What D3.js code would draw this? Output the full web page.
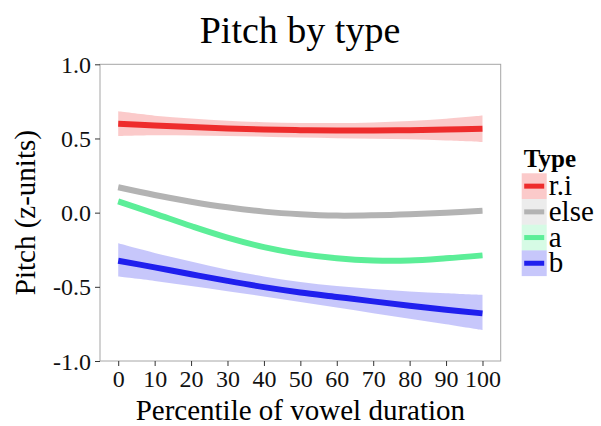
<!DOCTYPE html>
<html>
<head>
<meta charset="utf-8">
<script src="https://cdn.jsdelivr.net/npm/d3@7"></script>
<style>
  body { margin: 0; background: #fff; }
  text { font-family: "Liberation Serif", "DejaVu Serif", serif; }
</style>
</head>
<body>
<script>
var percentiles = [0, 10, 20, 30, 40, 50, 60, 70, 80, 90, 100];
var types = ["r.i", "else", "a", "b"];
var colors = ["#ee2c2c", "#b3b3b3", "#5cee98", "#1f1fee"];

var meanRi   = [0.600, 0.588, 0.577, 0.568, 0.561, 0.556, 0.553, 0.553, 0.556, 0.560, 0.566];
var lowRi    = [0.517, 0.522, 0.520, 0.516, 0.512, 0.506, 0.502, 0.498, 0.494, 0.487, 0.477];
var highRi   = [0.683, 0.654, 0.634, 0.620, 0.610, 0.605, 0.604, 0.608, 0.618, 0.633, 0.655];

var meanElse = [0.171, 0.119, 0.074, 0.036, 0.007, -0.011, -0.020, -0.018, -0.011, 0.000, 0.013];
var lowElse  = [0.159, 0.108, 0.064, 0.027, -0.002, -0.020, -0.030, -0.029, -0.023, -0.013, -0.001];
var highElse = [0.183, 0.130, 0.084, 0.045, 0.016, -0.002, -0.010, -0.007, 0.001, 0.013, 0.027];

var meanA    = [0.076, -0.006, -0.090, -0.168, -0.232, -0.278, -0.308, -0.323, -0.323, -0.308, -0.288];
var lowA     = [0.064, -0.016, -0.099, -0.177, -0.241, -0.287, -0.317, -0.333, -0.334, -0.321, -0.302];
var highA    = [0.088, 0.004, -0.081, -0.159, -0.223, -0.269, -0.299, -0.313, -0.312, -0.295, -0.274];

var meanB    = [-0.324, -0.369, -0.415, -0.460, -0.502, -0.538, -0.568, -0.598, -0.627, -0.654, -0.679];
var lowB     = [-0.431, -0.460, -0.495, -0.530, -0.565, -0.603, -0.640, -0.678, -0.715, -0.752, -0.791];
var highB    = [-0.207, -0.272, -0.330, -0.385, -0.430, -0.467, -0.495, -0.515, -0.531, -0.544, -0.555];

var yTicks = [-1.0, -0.5, 0.0, 0.5, 1.0];
var xTicks = [0, 10, 20, 30, 40, 50, 60, 70, 80, 90, 100];

var means = [meanRi, meanElse, meanA, meanB];
var lows = [lowRi, lowElse, lowA, lowB];
var highs = [highRi, highElse, highA, highB];

var series = types.map(function (t, k) {
    return {
        name: t,
        color: colors[k],
        points: percentiles.map(function (p, i) {
            return { x: p, y: means[k][i], lo: lows[k][i], hi: highs[k][i] };
        })
    };
});

var width = 601, height = 426;
var pLeft = 100, pRight = 500.7, pTop = 64.3, pBottom = 361;

var svg = d3.select("body").append("svg")
    .attr("width", width)
    .attr("height", height);

var x = d3.scaleLinear().domain([-5, 105]).range([pLeft, pRight]);
var y = d3.scaleLinear().domain([-1, 1]).range([pBottom, pTop]);

// panel
svg.append("rect")
    .attr("x", pLeft)
    .attr("y", pTop)
    .attr("width", pRight - pLeft)
    .attr("height", pBottom - pTop)
    .attr("fill", "#fff")
    .attr("stroke", "#a6a6a6")
    .attr("stroke-width", 1);

var plot = svg.append("g");

var area = d3.area()
    .x(function (d) { return x(d.x); })
    .y0(function (d) { return y(d.lo); })
    .y1(function (d) { return y(d.hi); })
    .curve(d3.curveCatmullRom.alpha(0.5));

var line = d3.line()
    .x(function (d) { return x(d.x); })
    .y(function (d) { return y(d.y); })
    .curve(d3.curveCatmullRom.alpha(0.5));

plot.selectAll("path.band")
    .data(series)
    .enter()
    .append("path")
        .attr("class", "band")
        .attr("d", function (d) { return area(d.points); })
        .attr("fill", function (d) { return d.color; })
        .attr("fill-opacity", 0.25);

plot.selectAll("path.fit")
    .data(series)
    .enter()
    .append("path")
        .attr("class", "fit")
        .attr("d", function (d) { return line(d.points); })
        .attr("fill", "none")
        .attr("stroke", function (d) { return d.color; })
        .attr("stroke-width", 6);

// axes
var yAxis = svg.append("g")
    .attr("transform", "translate(" + pLeft + ",0)")
    .call(d3.axisLeft(y).tickValues(yTicks)
        .tickFormat(function (d) { return d.toFixed(1); })
        .tickSize(5).tickPadding(4));

var xAxis = svg.append("g")
    .attr("transform", "translate(0," + pBottom + ")")
    .call(d3.axisBottom(x).tickValues(xTicks).tickSize(5).tickPadding(3));

[yAxis, xAxis].forEach(function (a) {
    a.select(".domain").remove();
    a.selectAll(".tick line").attr("stroke", "#333");
    a.selectAll(".tick text")
        .attr("fill", "#111")
        .style("font-size", "24px")
        .style("font-family", "Liberation Serif, serif");
});
yAxis.selectAll(".tick text").attr("dy", "0.34em");
xAxis.selectAll(".tick text").attr("dy", "0.75em");

// titles
svg.append("text")
    .attr("x", 300)
    .attr("y", 43)
    .attr("text-anchor", "middle")
    .style("font-size", "38px")
    .text("Pitch by type");

svg.append("text")
    .attr("x", (pLeft + pRight) / 2)
    .attr("y", 420)
    .attr("text-anchor", "middle")
    .style("font-size", "29px")
    .text("Percentile of vowel duration");

svg.append("text")
    .attr("transform", "translate(35," + ((pTop + pBottom) / 2) + ") rotate(-90)")
    .attr("text-anchor", "middle")
    .style("font-size", "29px")
    .text("Pitch (z-units)");

// legend
var legend = svg.append("g")
    .attr("transform", "translate(521.7,173.3)");

legend.append("text")
    .attr("x", 2)
    .attr("y", -6)
    .style("font-size", "25px")
    .style("font-weight", "bold")
    .text("Type");

var keyH = 25.7, keyW = 25;

var item = legend.selectAll("g.item")
    .data(series)
    .enter()
    .append("g")
        .attr("class", "item")
        .attr("transform", function (d, i) { return "translate(0," + (i * keyH) + ")"; });

item.append("rect")
    .attr("width", keyW)
    .attr("height", keyH)
    .attr("fill", function (d) { return d.color; })
    .attr("fill-opacity", 0.25);

item.append("line")
    .attr("x1", 2.5)
    .attr("x2", keyW - 2.5)
    .attr("y1", keyH / 2)
    .attr("y2", keyH / 2)
    .attr("stroke", function (d) { return d.color; })
    .attr("stroke-width", 5);

item.append("text")
    .attr("x", keyW + 2)
    .attr("y", keyH / 2 + 9)
    .style("font-size", "29px")
    .text(function (d) { return d.name; });
</script>
</body>
</html>
